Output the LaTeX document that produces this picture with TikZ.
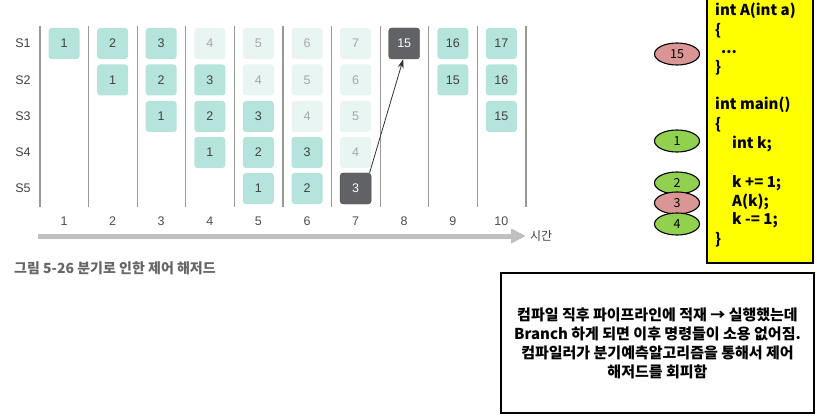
\documentclass[tikz,border=0pt]{standalone}
\usepackage{fontspec}
\setmainfont{Liberation Sans}
\newfontfamily\kfont{Noto Sans CJK KR}
\usetikzlibrary{arrows.meta}
\usetikzlibrary{shapes.geometric}
\definecolor{tealbox}{HTML}{B5E4DC}
\definecolor{palebox}{HTML}{E8F5F2}
\definecolor{darkbox}{HTML}{616266}
\definecolor{codeyellow}{HTML}{FFFF00}
\definecolor{redoval}{HTML}{D99694}
\definecolor{greenoval}{HTML}{92D050}
\tikzset{stage/.style = {rectangle, rounded corners = 3, minimum width = 31, minimum height = 31, inner sep = 0, font = \fontsize{12.5}{12.5}\selectfont, text = black!75}}
\tikzset{busy/.style = {stage, fill = tealbox}}
\tikzset{flushed/.style = {stage, fill = palebox, text = black!35}}
\tikzset{jumped/.style = {stage, fill = darkbox, draw = darkbox!80!black, text = white}}
\tikzset{gridline/.style = {draw = black!40, line width = 1.2}}
\tikzset{oval/.style = {ellipse, draw, line width = 1.1, minimum width = 45, minimum height = 22, inner sep = 0, font = \kfont\fontsize{12.5}{12.5}\selectfont}}
\tikzset{codeline/.style = {anchor = west, inner sep = 0, text height = 11, text depth = 3, font = \kfont\bfseries\fontsize{15}{15}\selectfont}}

\begin{document}
\begin{tikzpicture}[x=1pt, y=-1pt]
    \useasboundingbox (0, 0) rectangle (817, 417);

    \foreach \i in {0,...,10}
      \draw[gridline] ({40+48.6*\i}, 26) -- ({40+48.6*\i}, 207);

    \node [text = black!75, font = \fontsize{12.5}{12.5}\selectfont] (s1) at (23, 43.5) {S1};
    \node [text = black!75, font = \fontsize{12.5}{12.5}\selectfont] (s2) at (23, 80) {S2};
    \node [text = black!75, font = \fontsize{12.5}{12.5}\selectfont] (s3) at (23, 116.5) {S3};
    \node [text = black!75, font = \fontsize{12.5}{12.5}\selectfont] (s4) at (23, 152.5) {S4};
    \node [text = black!75, font = \fontsize{12.5}{12.5}\selectfont] (s5) at (23, 188.5) {S5};

    \foreach \k in {1,...,10}
      \node [text = black!70, font = \fontsize{12.5}{12.5}\selectfont] (t\k) at ({64+48.6*(\k-1)}, 221) {\k};

    \node [busy] (c1s1) at (64, 43.5) {1};

    \node [busy] (c2s1) at (112.6, 43.5) {2};
    \node [busy] (c2s2) at (112.6, 80) {1};

    \node [busy] (c3s1) at (161.2, 43.5) {3};
    \node [busy] (c3s2) at (161.2, 80) {2};
    \node [busy] (c3s3) at (161.2, 116.5) {1};

    \node [flushed] (c4s1) at (209.8, 43.5) {4};
    \node [busy] (c4s2) at (209.8, 80) {3};
    \node [busy] (c4s3) at (209.8, 116.5) {2};
    \node [busy] (c4s4) at (209.8, 152.5) {1};

    \node [flushed] (c5s1) at (258.4, 43.5) {5};
    \node [flushed] (c5s2) at (258.4, 80) {4};
    \node [busy] (c5s3) at (258.4, 116.5) {3};
    \node [busy] (c5s4) at (258.4, 152.5) {2};
    \node [busy] (c5s5) at (258.4, 188.5) {1};

    \node [flushed] (c6s1) at (307, 43.5) {6};
    \node [flushed] (c6s2) at (307, 80) {5};
    \node [flushed] (c6s3) at (307, 116.5) {4};
    \node [busy] (c6s4) at (307, 152.5) {3};
    \node [busy] (c6s5) at (307, 188.5) {2};

    \node [flushed] (c7s1) at (355.6, 43.5) {7};
    \node [flushed] (c7s2) at (355.6, 80) {6};
    \node [flushed] (c7s3) at (355.6, 116.5) {5};
    \node [flushed] (c7s4) at (355.6, 152.5) {4};
    \node [jumped] (c7s5) at (355.6, 188.5) {3};

    \node [jumped] (c8s1) at (404.2, 43.5) {15};

    \node [busy] (c9s1) at (452.8, 43.5) {16};
    \node [busy] (c9s2) at (452.8, 80) {15};

    \node [busy] (c10s1) at (501.4, 43.5) {17};
    \node [busy] (c10s2) at (501.4, 80) {16};
    \node [busy] (c10s3) at (501.4, 116.5) {15};

    \draw [-{Stealth[length=9, width=6]}, line width = 0.8, black!80] ([xshift=14]c7s5.north) -- ([xshift=-1]c8s1.south);

    \coordinate (tstart) at (38, 236);
    \coordinate (tend) at (526, 236);
    \draw [-{Triangle[length=15, width=14]}, line width = 5, black!25] (tstart) -- (tend);
    \node [anchor = west, inner sep = 0, text = black!75, font = \kfont\fontsize{12}{12}\selectfont] (time) at (530, 236) {시간};

    \node [anchor = west, inner sep = 0, text = black!60, font = \kfont\bfseries\fontsize{14}{14}\selectfont] (cap) at (14, 268) {그림 5-26 분기로 인한 제어 해저드};

    \draw [fill = codeyellow, line width = 1.3] (707, -5) rectangle (813, 263);
    \node [codeline] (l1) at (715, 12) {int A(int a)};
    \node [codeline] (l2) at (715, 32) {\{};
    \node [codeline] (l3) at (721, 50) {...};
    \node [codeline] (l4) at (715, 69) {\}};
    \node [codeline] (l5) at (715, 106) {int main()};
    \node [codeline] (l6) at (715, 126) {\{};
    \node [codeline] (l7) at (732, 145) {int k;};
    \node [codeline] (l8) at (732, 183) {k += 1;};
    \node [codeline] (l9) at (732, 202) {A(k);};
    \node [codeline] (l10) at (732, 220) {k -= 1;};
    \node [codeline] (l11) at (715, 240) {\}};

    \node [oval, fill = redoval] (e15) at (677, 54) {15};
    \node [oval, fill = greenoval] (e1) at (677, 141) {1};
    \node [oval, fill = greenoval] (e2) at (677, 183) {2};
    \node [oval, fill = redoval] (e3) at (677, 203) {3};
    \node [oval, fill = greenoval] (e4) at (677, 224) {4};

    \node [draw, line width = 1.3, minimum width = 313, minimum height = 140, align = center, font = \kfont\bfseries\fontsize{15}{19}\selectfont] (note) at (657.5, 343) {컴파일 직후 파이프라인에 적재 → 실행했는데\\Branch 하게 되면 이후 명령들이 소용 없어짐.\\컴파일러가 분기예측알고리즘을 통해서 제어\\해저드를 회피함};
  \end{tikzpicture}
\end{document}
